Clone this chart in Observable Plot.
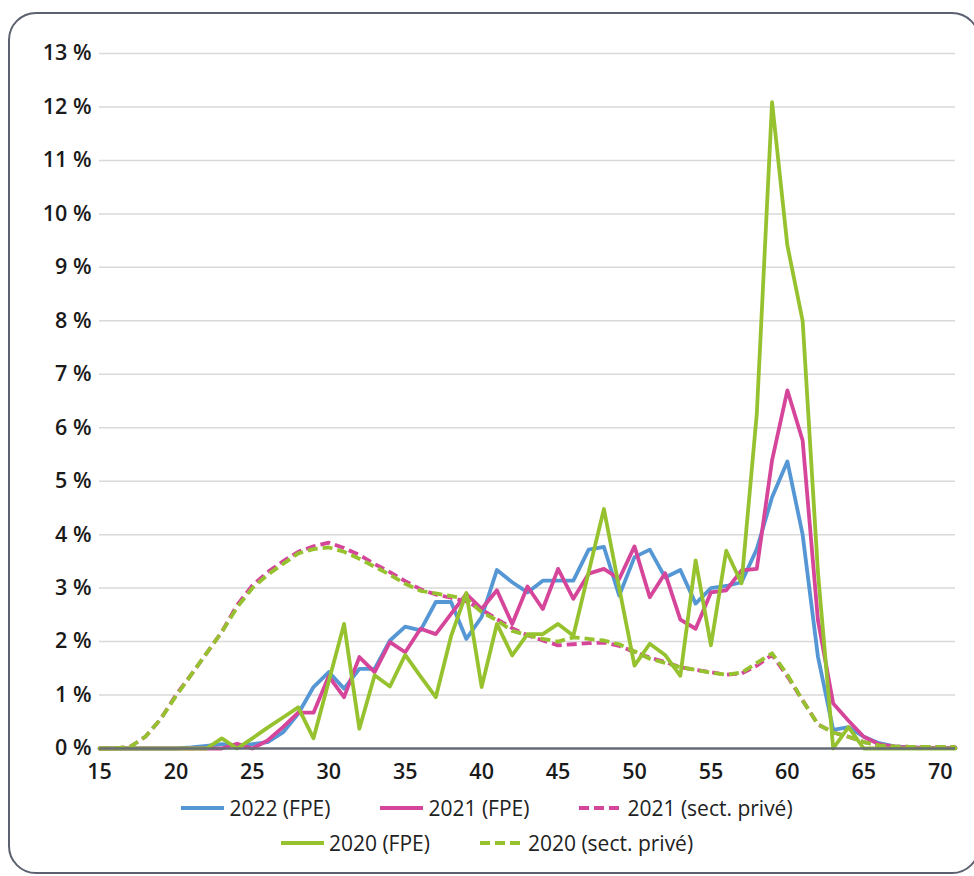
<!DOCTYPE html>
<html>
<head>
<meta charset="utf-8">
<script src="https://cdn.jsdelivr.net/npm/d3@7"></script>
<script src="https://cdn.jsdelivr.net/npm/@observablehq/plot@0.6"></script>
<style>
  html, body { margin: 0; padding: 0; background: #fff; }
  body { width: 974px; height: 876px; overflow: hidden; position: relative; font-family: "Open Sans", sans-serif; }
  #frame { position: absolute; left: 8px; top: 12px; width: 972px; height: 862px; border: 2.5px solid #5b6170; border-radius: 28px; box-sizing: border-box; }
  #chart { position: absolute; left: 0; top: 0; }
  .legend-row { position: absolute; left: 0; width: 974px; display: flex; justify-content: center; align-items: center; gap: 50px; font-size: 21px; color: #222; }
  .item { display: flex; align-items: center; gap: 5px; white-space: nowrap; }
</style>
</head>
<body>
<div id="frame"></div>
<div id="chart"></div>
<div class="legend-row" id="row1" style="top:793px;height:30px"></div>
<div class="legend-row" id="row2" style="top:828px;height:30px"></div>
<script>
// Ages (category axis)
const ages = [15,16,17,18,19,20,21,22,23,24,25,26,27,28,29,30,31,32,33,34,35,36,37,38,39,40,41,42,43,44,45,46,47,48,49,50,51,52,53,54,55,56,57,58,59,60,61,62,63,64,65,66,67,68,69,70,71];

// Shares (%) by age
const fpe2022 = [0,0,0,0,0,0,0.02,0.05,0.08,0.06,0.08,0.12,0.3,0.65,1.15,1.43,1.12,1.49,1.49,2.02,2.28,2.21,2.74,2.74,2.05,2.46,3.34,3.11,2.92,3.14,3.14,3.14,3.72,3.77,2.86,3.58,3.72,3.2,3.34,2.71,3.0,3.04,3.11,3.73,4.7,5.37,4.0,1.72,0.35,0.4,0.22,0.1,0.04,0.02,0.01,0.01,0.01];
const fpe2021 = [0,0,0,0,0,0,0,0,0,0.09,0,0.15,0.4,0.67,0.67,1.35,0.96,1.71,1.43,1.99,1.8,2.24,2.14,2.52,2.89,2.61,2.96,2.33,3.03,2.61,3.36,2.8,3.27,3.36,3.17,3.78,2.83,3.28,2.41,2.24,2.92,2.96,3.33,3.36,5.39,6.7,5.76,2.4,0.84,0.52,0.22,0.08,0.03,0.02,0.01,0.01,0.01];
const prive2021 = [0,0,0.03,0.22,0.55,1.0,1.38,1.78,2.18,2.68,3.05,3.3,3.5,3.68,3.78,3.85,3.75,3.62,3.45,3.3,3.13,2.98,2.88,2.82,2.75,2.6,2.42,2.25,2.12,2.02,1.93,1.95,1.97,1.98,1.92,1.8,1.7,1.62,1.52,1.47,1.43,1.38,1.4,1.55,1.75,1.35,0.9,0.45,0.3,0.22,0.12,0.06,0.04,0.03,0.03,0.03,0.03];
const fpe2020 = [0,0,0,0,0,0,0,0,0.19,0,0.19,0.39,0.58,0.77,0.19,1.26,2.33,0.37,1.37,1.16,1.75,1.35,0.96,2.1,2.91,1.15,2.33,1.74,2.14,2.14,2.33,2.11,3.3,4.48,3.0,1.55,1.96,1.75,1.36,3.52,1.93,3.7,3.09,6.26,12.09,9.41,8.0,3.3,0,0.4,0,0,0,0,0,0,0];
const prive2020 = [0,0,0.03,0.22,0.55,0.98,1.38,1.78,2.18,2.64,3.0,3.25,3.45,3.65,3.73,3.76,3.68,3.55,3.4,3.25,3.08,2.95,2.9,2.85,2.8,2.55,2.4,2.2,2.12,2.05,2.0,2.08,2.05,2.02,1.95,1.82,1.68,1.6,1.52,1.47,1.42,1.38,1.42,1.6,1.78,1.38,0.9,0.45,0.3,0.22,0.12,0.06,0.04,0.03,0.03,0.03,0.03];

const xTicks = [15,20,25,30,35,40,45,50,55,60,65,70];
const yTicks = [0,1,2,3,4,5,6,7,8,9,10,11,12,13];

const BLUE = "#5597d5", PINK = "#d5469a", GREEN = "#97c230";
const series = [
  {name: "2022 (FPE)", values: fpe2022, color: BLUE, dash: null},
  {name: "2021 (FPE)", values: fpe2021, color: PINK, dash: null},
  {name: "2021 (sect. privé)", values: prive2021, color: PINK, dash: "10,5"},
  {name: "2020 (FPE)", values: fpe2020, color: GREEN, dash: null},
  {name: "2020 (sect. privé)", values: prive2020, color: GREEN, dash: "10,5"}
];

const lineMarks = series.map(s => Plot.line(
  ages.map((a, i) => ({age: a, v: s.values[i]})),
  {x: "age", y: "v", stroke: s.color, strokeWidth: 3.8, strokeDasharray: s.dash || undefined, strokeLinejoin: "round", strokeLinecap: s.dash ? "butt" : "round"}
));

const chart = Plot.plot({
  width: 974,
  height: 790,
  marginLeft: 99,
  marginRight: 19,
  marginTop: 53,
  marginBottom: 42,
  style: {fontFamily: "'Open Sans', sans-serif", fontSize: "21.5px", fontWeight: 600, color: "#1a1a1a", background: "transparent", overflow: "visible"},
  x: {domain: [15, 71], label: null},
  y: {domain: [0, 13], label: null},
  marks: [
    Plot.gridY(yTicks.filter(d => d > 0), {stroke: "#d9d9d9", strokeOpacity: 1, strokeWidth: 1.5}),
    Plot.axisY(yTicks, {tickSize: 0, tickPadding: 8, tickFormat: d => d + " %", label: null}),
    Plot.axisX(xTicks, {tickSize: 0, tickPadding: 15, label: null}),
    ...lineMarks,
    Plot.ruleY([0], {stroke: "#666b76", strokeWidth: 2.5})
  ]
});
document.getElementById("chart").appendChild(chart);

// Legend
function swatch(s) {
  const ns = "http://www.w3.org/2000/svg";
  const svg = document.createElementNS(ns, "svg");
  svg.setAttribute("width", 43); svg.setAttribute("height", 8);
  const l = document.createElementNS(ns, "line");
  l.setAttribute("x1", 0); l.setAttribute("x2", 43); l.setAttribute("y1", 4); l.setAttribute("y2", 4);
  l.setAttribute("stroke", s.color); l.setAttribute("stroke-width", 4);
  if (s.dash) l.setAttribute("stroke-dasharray", "10,5");
  svg.appendChild(l);
  return svg;
}
function addItem(row, s) {
  const d = document.createElement("div"); d.className = "item";
  d.appendChild(swatch(s));
  const t = document.createElement("span"); t.textContent = s.name;
  d.appendChild(t);
  row.appendChild(d);
}
const r1 = document.getElementById("row1"), r2 = document.getElementById("row2");
[series[0], series[1], series[2]].forEach(s => addItem(r1, s));
[series[3], series[4]].forEach(s => addItem(r2, s));
</script>
</body>
</html>
